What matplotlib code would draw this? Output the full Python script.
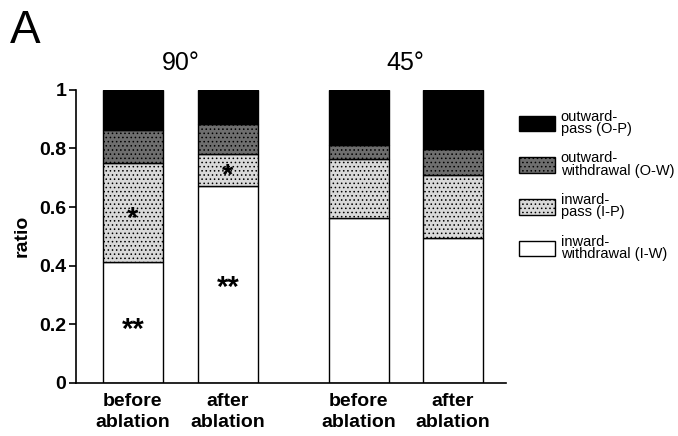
import numpy as np
import matplotlib
matplotlib.use('Agg')
import matplotlib.pyplot as plt
from matplotlib.patches import Patch

plt.rcParams['font.family'] = ['Liberation Sans', 'DejaVu Sans']
plt.rcParams['hatch.linewidth'] = 0.6

# Data (ratios, stacked bottom to top)
conditions = ['before\nablation', 'after\nablation', 'before\nablation', 'after\nablation']
inward_withdrawal = [0.413, 0.672, 0.563, 0.495]
inward_pass = [0.338, 0.110, 0.202, 0.215]
outward_withdrawal = [0.112, 0.102, 0.047, 0.089]
outward_pass = [0.137, 0.116, 0.188, 0.201]
angles = ['90°', '45°']

series = [
    ('inward-\nwithdrawal (I-W)', inward_withdrawal, 'white', None),
    ('inward-\npass (I-P)', inward_pass, '#d9d9d9', '....'),
    ('outward-\nwithdrawal (O-W)', outward_withdrawal, '#6e6e6e', '....'),
    ('outward-\npass (O-P)', outward_pass, 'black', None),
]

fig = plt.figure(figsize=(6.78, 4.36), dpi=100)
ax = fig.add_axes([0.112, 0.122, 0.634, 0.672])

x = np.array([0, 1, 2.38, 3.37])
width = 0.63
bottom = np.zeros(4)
handles = []
for name, vals, color, hatch in series:
    ax.bar(x, vals, width, bottom=bottom, color=color, edgecolor='black',
           linewidth=1.0, hatch=hatch)
    bottom += np.array(vals)
    handles.append(Patch(facecolor=color, edgecolor='black', hatch=hatch, label=name))

# significance marks
star = dict(ha='center', va='center', fontsize=21, fontweight='bold')
ax.text(x[0], 0.18, '**', **star)
ax.text(x[0], 0.56, '*', **star)
ax.text(x[1], 0.325, '**', **star)
ax.text(x[1], 0.705, '*', **star)

ax.set_xlim(-0.6, 3.93)
ax.set_ylim(0, 1)
ax.set_yticks([0, 0.2, 0.4, 0.6, 0.8, 1])
ax.set_yticklabels(['0', '0.2', '0.4', '0.6', '0.8', '1'], fontweight='bold')
ax.set_xticks(x)
ax.set_xticklabels(conditions, fontsize=14, linespacing=1.35, fontweight='bold')
ax.tick_params(axis='x', length=0, pad=7)
ax.tick_params(axis='y', labelsize=14, length=5, width=1.2, pad=2)
ax.set_ylabel('ratio', fontsize=14, fontweight='bold', labelpad=6)
for s in ['top', 'right']:
    ax.spines[s].set_visible(False)
ax.spines['left'].set_linewidth(1.2)
ax.spines['bottom'].set_linewidth(1.2)

ax.text((x[0] + x[1]) / 2, 1.09, angles[0], ha='center', va='center', fontsize=18)
ax.text((x[2] + x[3]) / 2, 1.09, angles[1], ha='center', va='center', fontsize=18)
fig.text(0.014, 0.928, 'A', fontsize=33, va='center')

leg = fig.legend(handles=handles[::-1], loc='upper left', bbox_to_anchor=(0.755, 0.765),
                 frameon=False, prop={'size': 10.5},
                 handlelength=2.45, handleheight=1.25, labelspacing=1.05,
                 handletextpad=0.4, borderpad=0)
for t in leg.get_texts():
    t.set_linespacing(0.85)

fig.savefig('out.png', dpi=100)
